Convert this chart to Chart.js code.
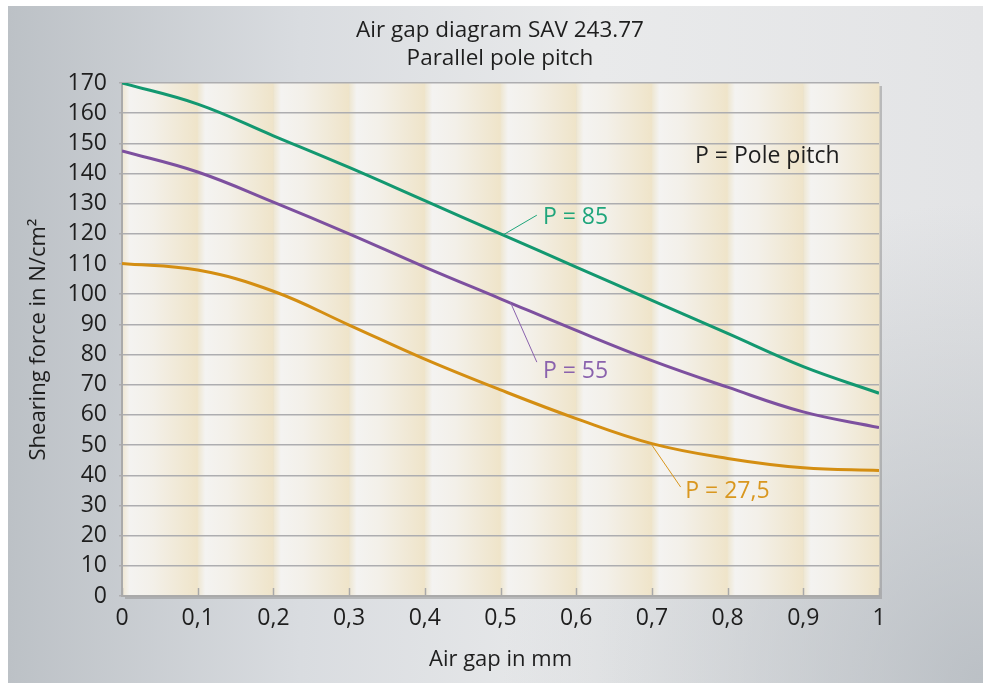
<!DOCTYPE html>
<html>
<head>
<meta charset="utf-8">
<script src="https://cdn.jsdelivr.net/npm/chart.js@4/dist/chart.umd.min.js"></script>
<style>
    html, body { margin: 0; padding: 0; background: #ffffff; }
    #wrap { width: 983px; height: 683px; }
</style>
</head>
<body>
<div id="wrap"><canvas id="gapChart" width="983" height="683"></canvas></div>
<script>
// Air gap in mm
const GAP = [0, 0.1, 0.2, 0.3, 0.4, 0.5, 0.6, 0.7, 0.8, 0.9, 1];

// Shearing force in N/cm2, one list per pole pitch
const P85 = [170, 163, 152.5, 142, 131, 120, 109, 98, 87, 76, 67.2];
const P55 = [147.5, 140.5, 130.5, 120, 109, 98.5, 88, 78, 69.2, 61, 55.8];
const P27_5 = [110.2, 108, 101, 89.8, 78.5, 68.3, 58.8, 50.5, 45.6, 42.5, 41.6];

const SERIES_NAMES = ["P = 85", "P = 55", "P = 27,5"];
const SERIES_COLORS = ["#139870", "#7d509f", "#d48e12"];
const LABEL_COLORS = ["#1fa57b", "#8a62ad", "#d9971f"];
const TITLE_LINES = ["Air gap diagram SAV 243.77", "Parallel pole pitch"];

const FONT = "'Open Sans', 'Noto Sans', sans-serif";
const TEXT_COLOR = "#1e1e1e";

// Where the curve labels sit, in data units (x, y): leader start, leader end, text
const LABEL_SPOTS = [
    {from: [0.503, 119.6], to: [0.548, 126.2], text: [0.556, 125.6]},
    {from: [0.513, 97.4], to: [0.548, 77.5], text: [0.556, 74.5]},
    {from: [0.700, 50.0], to: [0.738, 36.1], text: [0.744, 34.8]}
];

function toPoints(values){
    return values.map((v, i) => ({x: GAP[i], y: v}));
}

function fmtGap(v){
    if(v === 0 || v === 1) return String(v);
    return v.toFixed(1).replace(".", ",");
}

// Grey panel + striped plot background
const backdrop = {
    id: "backdrop",
    beforeDraw(chart){
        const {ctx, chartArea: a, width, height} = chart;
        const xs = chart.scales.x;
        ctx.save();
        ctx.fillStyle = "#ffffff";
        ctx.fillRect(0, 0, width, height);

        const g = ctx.createLinearGradient(8, 0, width, 0);
        g.addColorStop(0, "#bcc1c6");
        g.addColorStop(0.3, "#d9dce0");
        g.addColorStop(0.6, "#e9eaeb");
        g.addColorStop(1, "#e3e4e6");
        ctx.fillStyle = g;
        ctx.fillRect(8, 6, width - 8, height - 6);

        const r = ctx.createRadialGradient(width, height, 10, width, height, 480);
        r.addColorStop(0, "rgba(178,184,190,0.8)");
        r.addColorStop(1, "rgba(178,184,190,0)");
        ctx.fillStyle = r;
        ctx.fillRect(8, 6, width - 8, height - 6);

        // shadow of the plot area
        ctx.fillStyle = "rgba(150,150,150,0.55)";
        ctx.fillRect(a.left + 3, a.top + 3, a.right - a.left, a.bottom - a.top);

        for(let i = 0; i < GAP.length - 1; i++){
            const x0 = xs.getPixelForValue(GAP[i]);
            const x1 = xs.getPixelForValue(GAP[i + 1]);
            const sg = ctx.createLinearGradient(x0, 0, x1, 0);
            sg.addColorStop(0, "#eee6d0");
            sg.addColorStop(0.1, "#f4f3f1");
            sg.addColorStop(0.4, "#f3f0e9");
            sg.addColorStop(1, "#efe4c9");
            ctx.fillStyle = sg;
            ctx.fillRect(x0, a.top, x1 - x0 + 0.5, a.bottom - a.top);
        }

        // title
        ctx.fillStyle = TEXT_COLOR;
        ctx.font = "22.5px " + FONT;
        ctx.textAlign = "center";
        ctx.textBaseline = "middle";
        ctx.fillText(TITLE_LINES[0], 500, 31);
        ctx.fillText(TITLE_LINES[1], 500, 59);
        ctx.restore();
    },
    afterDraw(chart){
        const {ctx, chartArea: a} = chart;
        const xs = chart.scales.x;
        const ys = chart.scales.y;
        ctx.save();

        // inward tick marks on the x axis
        ctx.strokeStyle = "#a9a9a9";
        ctx.lineWidth = 1.5;
        GAP.forEach(v => {
            const px = Math.round(xs.getPixelForValue(v)) + 0.5;
            ctx.beginPath();
            ctx.moveTo(px, a.bottom);
            ctx.lineTo(px, a.bottom - 8);
            ctx.stroke();
        });

        // curve labels with leader lines
        ctx.font = "23px " + FONT;
        ctx.textBaseline = "middle";
        LABEL_SPOTS.forEach((s, i) => {
            ctx.strokeStyle = LABEL_COLORS[i];
            ctx.lineWidth = 1;
            ctx.beginPath();
            ctx.moveTo(xs.getPixelForValue(s.from[0]), ys.getPixelForValue(s.from[1]));
            ctx.lineTo(xs.getPixelForValue(s.to[0]), ys.getPixelForValue(s.to[1]));
            ctx.stroke();
            ctx.fillStyle = LABEL_COLORS[i];
            ctx.fillText(SERIES_NAMES[i], xs.getPixelForValue(s.text[0]), ys.getPixelForValue(s.text[1]));
        });

        ctx.fillStyle = TEXT_COLOR;
        ctx.fillText("P = Pole pitch", xs.getPixelForValue(0.757), ys.getPixelForValue(145.5));
        ctx.restore();
    }
};

const datasets = [P85, P55, P27_5].map((vals, i) => ({
    label: SERIES_NAMES[i],
    data: toPoints(vals),
    borderColor: SERIES_COLORS[i],
    borderWidth: 3,
    pointRadius: 0,
    fill: false,
    tension: 0.4
}));

new Chart(document.getElementById("gapChart"), {
    type: "line",
    data: {datasets: datasets},
    plugins: [backdrop],
    options: {
        responsive: false,
        animation: false,
        layout: {padding: {left: 0, right: 104, top: 83, bottom: 0}},
        plugins: {
            legend: {display: false},
            tooltip: {enabled: false},
            title: {display: false}
        },
        scales: {
            x: {
                type: "linear",
                min: 0,
                max: 1,
                afterFit: s => { s.height = 87; },
                afterBuildTicks: s => { s.ticks = GAP.map(v => ({value: v})); },
                ticks: {
                    color: TEXT_COLOR,
                    font: {family: FONT, size: 23},
                    padding: 9,
                    autoSkip: false,
                    maxRotation: 0,
                    callback: v => fmtGap(v)
                },
                grid: {drawOnChartArea: false, drawTicks: false},
                border: {color: "#aaaaaa", width: 2},
                title: {
                    display: true,
                    text: "Air gap in mm",
                    color: TEXT_COLOR,
                    font: {family: FONT, size: 22},
                    padding: {top: 0, bottom: 10}
                }
            },
            y: {
                min: 0,
                max: 170,
                afterFit: s => { s.width = 122; },
                ticks: {
                    stepSize: 10,
                    autoSkip: false,
                    color: TEXT_COLOR,
                    font: {family: FONT, size: 23},
                    padding: 12
                },
                grid: {color: "#adadb0", lineWidth: 1.5, tickLength: 3},
                border: {color: "#aaaaaa", width: 2},
                title: {
                    display: true,
                    text: "Shearing force in N/cm²",
                    color: TEXT_COLOR,
                    font: {family: FONT, size: 22},
                    padding: {top: 26, bottom: 0}
                }
            }
        }
    }
});
</script>
</body>
</html>
